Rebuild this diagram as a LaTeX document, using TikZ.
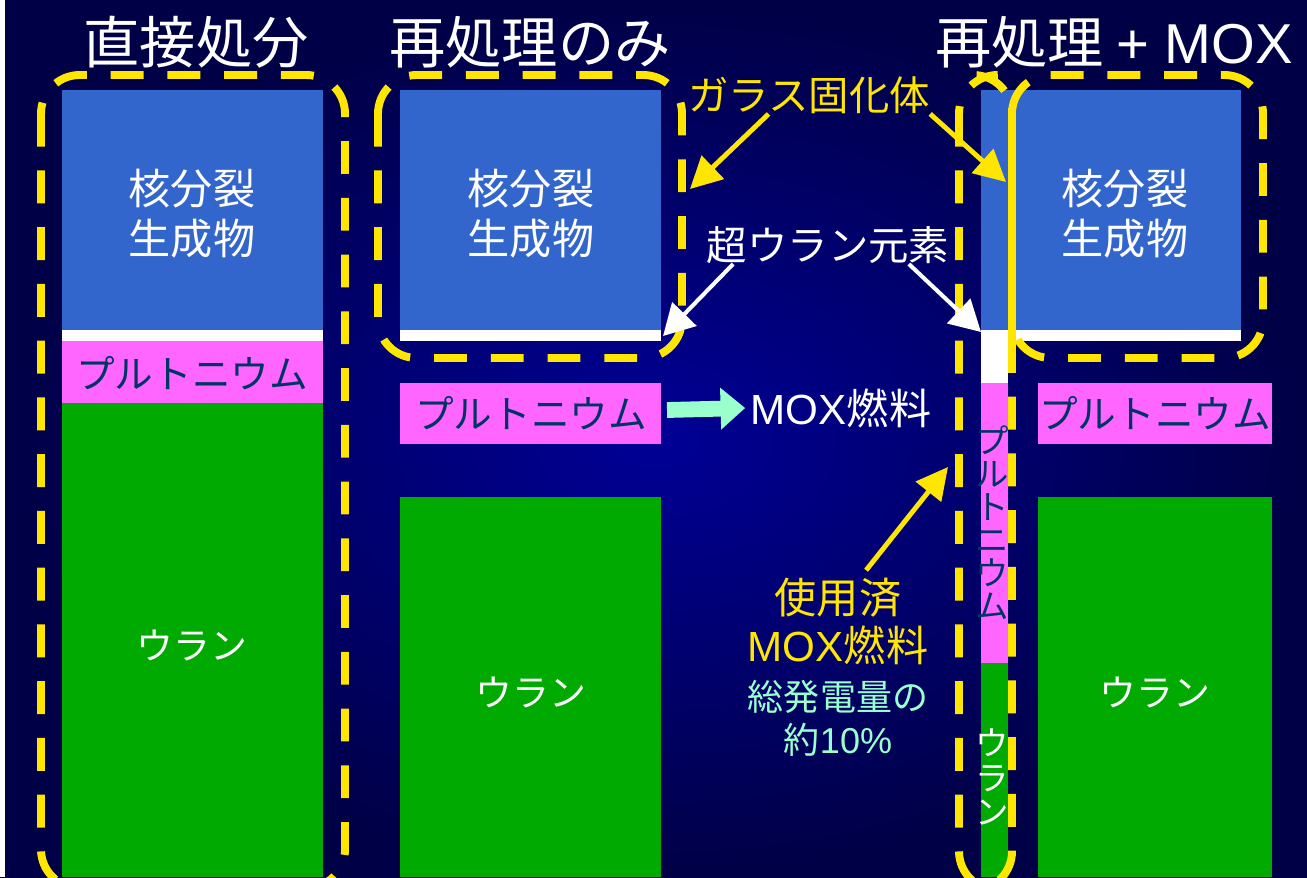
\documentclass[tikz,border=0pt]{standalone}
\usepackage{fontspec}
\setmainfont{Noto Sans CJK JP}
\newfontfamily\latin{Liberation Sans}
\usetikzlibrary{arrows.meta}
\definecolor{bgin}{RGB}{0,0,150}
\definecolor{bgout}{RGB}{0,0,70}
\definecolor{fpblue}{RGB}{51,102,204}
\definecolor{pupink}{RGB}{255,102,255}
\definecolor{ugreen}{RGB}{0,170,0}
\definecolor{gold}{RGB}{255,230,0}
\definecolor{mint}{RGB}{153,255,204}
\definecolor{puink}{RGB}{0,51,102}
\newcommand{\fsz}[2]{\fontsize{#1pt}{#2pt}\selectfont}

\begin{document}
\begin{tikzpicture}[x=0.02cm,y=-0.02cm,
  grp/.style={draw=gold,line width=4.5pt,dash pattern=on 18.7pt off 13.6pt,rounded corners=22pt},
  txt/.style={inner sep=0pt,align=center,text=white},
  yarr/.style={draw=gold,line width=2.8pt,-{Triangle[length=18pt,width=18pt]}},
  warr/.style={draw=white,line width=2.3pt,-{Triangle[length=17.5pt,width=19pt]}}]
\useasboundingbox (0,0) rectangle (1307,877);
\shade[inner color=bgin,outer color=bgout] (0,0) rectangle (1307,877);
\fill[white] (0,0) rectangle (5,877);

\fill[fpblue] (62,90) rectangle (323,330);
\fill[white] (62,330) rectangle (323,341);
\fill[pupink] (62,341) rectangle (323,403);
\fill[ugreen] (62,403) rectangle (323,877);

\fill[fpblue] (400,90) rectangle (661,330);
\fill[white] (400,330) rectangle (661,341);
\fill[pupink] (400,383) rectangle (661,444);
\fill[ugreen] (400,497) rectangle (661,877);

\fill[fpblue] (981,90) rectangle (1241,330);
\fill[white] (981,330) rectangle (1008,383);
\fill[white] (1008,330) rectangle (1241,341);
\fill[pupink] (981,383) rectangle (1008,663);
\fill[ugreen] (981,663) rectangle (1008,877);
\fill[pupink] (1038,383) rectangle (1272,444);
\fill[ugreen] (1038,497) rectangle (1272,877);

\draw[grp] (41,75) rectangle (345,888);
\draw[grp] (378,75) rectangle (682,358);
\draw[grp] (959,75) rectangle (1012,890);
\draw[grp] (1012,75) rectangle (1263,358);
\draw[gold,line width=4.5pt] (1012,108) -- (1012,340);

\node[txt,font=\fsz{32}{38}] (direct) at (196,42) {直接処分};
\node[txt,font=\fsz{32}{38}] (repro) at (530,42) {再処理のみ};
\node[txt,font=\fsz{32}{38}] (repmox) at (1114,42) {再処理 {\latin + MOX}};

\node[txt,font=\fsz{24}{28.5}] (fp1) at (192,214) {核分裂\\生成物};
\node[txt,font=\fsz{24}{28.5}] (fp2) at (531,214) {核分裂\\生成物};
\node[txt,font=\fsz{24}{28.5}] (fp3) at (1125,214) {核分裂\\生成物};
\node[txt,text=puink,font=\fsz{22}{26}] (pu1) at (192,373) {プルトニウム};
\node[txt,text=puink,font=\fsz{22}{26}] (pu2) at (531,413) {プルトニウム};
\node[txt,text=puink,font=\fsz{22}{26}] (pu3) at (1155,413) {プルトニウム};
\node[txt,font=\fsz{21}{25}] (u1) at (192,645) {ウラン};
\node[txt,font=\fsz{21}{25}] (u2) at (531,692) {ウラン};
\node[txt,font=\fsz{21}{25}] (u3) at (1155,692) {ウラン};
\node[txt,text=puink,font=\fsz{19}{18.8}] (pu4) at (992,523) {プ\\ル\\ト\\ニ\\ウ\\ム};
\node[txt,font=\fsz{19}{19.5}] (u4) at (992,777) {ウ\\ラ\\ン};

\node[txt,text=gold,font=\fsz{23}{27}] (glass) at (809,95) {ガラス固化体};
\node[txt,font=\fsz{23}{27}] (tru) at (828,245) {超ウラン元素};
\node[txt,font=\fsz{24}{28}] (mox) at (841,408) {{\latin MOX}燃料};
\node[txt,text=gold,font=\fsz{24}{27.3}] (used) at (838,621) {使用済\\{\latin MOX}燃料};
\node[txt,text=mint,font=\fsz{20.5}{24.4}] (share) at (838,718) {総発電量の\\約{\latin 10\%}};

\coordinate (glL) at (690,189);
\coordinate (glR) at (1006,182);
\coordinate (truL) at (663,336);
\coordinate (truR) at (981,332);
\coordinate (moxR) at (948,467);
\coordinate (moxL) at (667,410);

\draw[yarr] ([xshift=-23pt]glass.south) -- (glL);
\draw[yarr] (glass.south east) -- (glR);
\draw[warr] ([xshift=-54pt]tru.south) -- (truL);
\draw[warr] ([xshift=46pt]tru.south) -- (truR);
\draw[yarr] ([xshift=16pt,yshift=4pt]used.north) -- (moxR);
\draw[mint,line width=9pt,-{Triangle[length=14pt,width=23pt]}] (moxL) -- ([xshift=-3pt]mox.west);
\end{tikzpicture}
\end{document}
